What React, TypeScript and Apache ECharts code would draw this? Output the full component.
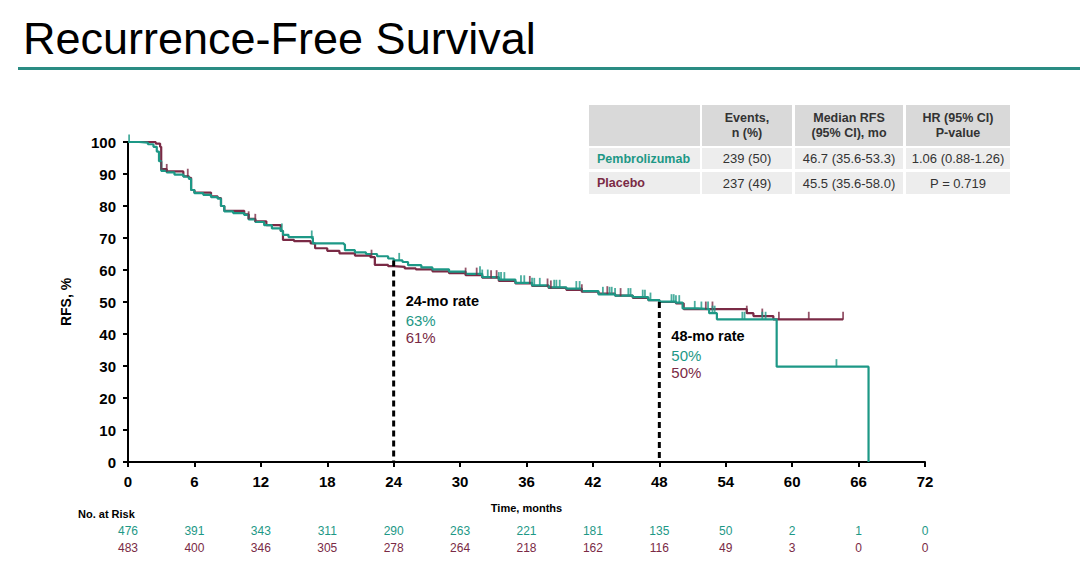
import React, { useEffect, useRef } from "react";
import * as echarts from "echarts";

const TEAL = "#1d9886";
const MAROON = "#7a2a45";

// Kaplan-Meier step points (time in months, RFS %)
const pembroTimes = [0, 1, 1.8, 2.3, 2.6, 2.8, 3.0, 3.5, 4.2, 5.0, 5.5, 5.7, 6.0, 6.8, 7.5, 8.1, 8.4, 8.7, 9.5, 10.5, 10.9, 11.5, 12.3, 13, 13.8, 14.0, 14.5, 16.6, 16.7, 19.5, 19.6, 20.5, 21.5, 22.5, 23.5, 24, 24.8, 25.3, 26.5, 27.5, 29, 30.5, 32, 33.5, 35, 36.5, 38, 39.6, 41, 42.5, 44, 45.6, 47, 48, 49.5, 50.1, 51.5, 52.5, 53.2, 58.6, 66.9];
const pembroSurv = [100, 99.8, 99.3, 98.5, 97, 94, 91, 90.5, 89.8, 89.2, 88.5, 85, 84, 83.5, 82.8, 82.3, 80, 78.3, 77.8, 77.2, 75.8, 75, 74, 73, 72.2, 71, 70.3, 70, 68.3, 68, 66.2, 65.5, 65, 64.3, 63.6, 63, 62.5, 61.5, 60.8, 60.2, 59.5, 58.8, 57.8, 57, 56, 55.2, 54.6, 54.2, 53.4, 52.4, 52, 51.5, 50.6, 50.1, 49.8, 48, 47.8, 46.5, 44.6, 29.8, 0];

const placeboTimes = [0, 2.5, 2.9, 3.0, 3.5, 5.0, 5.5, 5.7, 6, 7.5, 8.1, 8.4, 8.7, 10.5, 10.9, 11.5, 12.5, 13.8, 14.0, 15, 16.5, 16.9, 18, 19.1, 20.5, 21.9, 22.3, 23.5, 24, 25, 26, 27.5, 29, 30.5, 32, 33.5, 35, 36.5, 38, 39.6, 41, 42.5, 44, 45.6, 47, 48, 49.5, 50.2, 55.9, 56.5, 58.3, 64.6];
const placeboSurv = [100, 99.5, 98.5, 91.5, 90.8, 89.3, 88.8, 85, 84.2, 83, 82.5, 80, 78.5, 77.4, 76, 75.2, 74, 72.2, 69.4, 69, 68.3, 66.8, 66, 65.2, 64.5, 64, 61.6, 61.2, 61, 60.5, 60.2, 59.6, 59, 58.4, 57.6, 56.6, 55.8, 55, 54.4, 53.8, 53.2, 52.6, 52, 51.3, 50.6, 50, 49.6, 47.8, 46.5, 45.6, 44.6, 44.6];

// Censoring times
const pembroCensor = [0.1, 13.9, 16.6, 16.7, 24.5, 31.8, 32.0, 32.5, 33.5, 33.7, 34, 35.5, 35.8, 36.5, 36.7, 37.2, 38.5, 38.7, 39, 40.5, 40.8, 42.9, 43.5, 43.7, 44, 45.2, 45.4, 46.5, 46.7, 47.2, 49.1, 49.3, 49.5, 49.8, 51.2, 51.8, 52.4, 52.8, 53.0, 55.5, 55.7, 57.3, 57.6, 64.0];
const placeboCensor = [3.0, 3.5, 5.4, 10.9, 11.5, 22.0, 22.3, 30.5, 31.5, 32.8, 33.3, 36.3, 37.9, 38.2, 41.0, 43.3, 44.5, 52.2, 52.8, 55.9, 57.3, 58.8, 61.5, 64.6];

// Milestone rates
const milestoneTimes = [24, 48];
const milestonePembro = [63, 50];
const milestonePlacebo = [61, 50];

// Numbers at risk
const riskTimes = [0, 6, 12, 18, 24, 30, 36, 42, 48, 54, 60, 66, 72];
const pembroRisk = [476, 391, 343, 311, 290, 263, 221, 181, 135, 50, 2, 1, 0];
const placeboRisk = [483, 400, 346, 305, 278, 264, 218, 162, 116, 49, 3, 0, 0];

// Summary table
const tableHeaders = ["Events,\nn (%)", "Median RFS\n(95% CI), mo", "HR (95% CI)\nP-value"];
const tableRows = [
  { name: "Pembrolizumab", color: TEAL, cells: ["239 (50)", "46.7 (35.6-53.3)", "1.06 (0.88-1.26)"] },
  { name: "Placebo", color: MAROON, cells: ["237 (49)", "45.5 (35.6-58.0)", "P = 0.719"] },
];

const FONT = "'Liberation Sans', Arial, Helvetica, sans-serif";

function survAt(times: number[], surv: number[], t: number) {
  let s = surv[0];
  for (let i = 0; i < times.length; i++) if (times[i] <= t) s = surv[i];
  return s;
}

export default function App() {
  const ref = useRef<HTMLDivElement>(null);
  useEffect(() => {
    const chart = echarts.init(ref.current!, undefined, { renderer: "svg" });
    const riskAxis = (offset: number, vals: number[], color: string) => ({
      type: "value",
      min: 0,
      max: 72,
      interval: 6,
      position: "bottom",
      offset,
      axisLine: { show: false },
      axisTick: { show: false },
      splitLine: { show: false },
      axisLabel: {
        margin: 0,
        color,
        fontSize: 12,
        fontFamily: FONT,
        formatter: (v: number) => {
          const i = riskTimes.indexOf(v);
          return i >= 0 ? String(vals[i]) : "";
        },
      },
    });
    const censorSeries = (times: number[], surv: number[], cens: number[], color: string) => ({
      type: "scatter",
      symbol: "rect",
      symbolSize: [1.8, 8],
      symbolOffset: [0, -3.5],
      itemStyle: { color },
      z: 4,
      data: cens.map((t) => [t, survAt(times, surv, t)]),
    });
    chart.setOption({
      animation: false,
      backgroundColor: "#fff",
      title: {
        text: "Recurrence-Free Survival",
        left: 18,
        top: 11,
        textStyle: { fontFamily: FONT, fontSize: 45, fontWeight: "normal", color: "#000" },
      },
      grid: { left: 128, right: 155, top: 142, bottom: 112 },
      xAxis: [
        {
          type: "value",
          min: 0,
          max: 72,
          interval: 6,
          name: "Time, months",
          nameLocation: "middle",
          nameGap: 40,
          nameTextStyle: { fontFamily: FONT, fontWeight: "bold", fontSize: 11, color: "#000" },
          axisLine: { lineStyle: { color: "#000", width: 2 } },
          axisTick: { length: 5, lineStyle: { color: "#000", width: 2 } },
          splitLine: { show: false },
          axisLabel: { margin: 12, fontFamily: FONT, fontWeight: "bold", fontSize: 15, color: "#000" },
        },
        riskAxis(63, pembroRisk, TEAL),
        riskAxis(80, placeboRisk, MAROON),
      ],
      yAxis: {
        type: "value",
        min: 0,
        max: 100,
        interval: 10,
        name: "RFS, %",
        nameLocation: "middle",
        nameGap: 55,
        nameTextStyle: { fontFamily: FONT, fontWeight: "bold", fontSize: 14, color: "#000" },
        axisLine: { show: true, lineStyle: { color: "#000", width: 2 } },
        axisTick: { show: true, length: 5, lineStyle: { color: "#000", width: 2 } },
        splitLine: { show: false },
        axisLabel: { margin: 12, fontFamily: FONT, fontWeight: "bold", fontSize: 15, color: "#000" },
      },
      series: [
        {
          type: "line",
          step: "end",
          showSymbol: false,
          symbol: "none",
          lineStyle: { color: MAROON, width: 2.2 },
          z: 2,
          data: placeboTimes.map((t, i) => [t, placeboSurv[i]]),
        },
        {
          type: "line",
          step: "end",
          showSymbol: false,
          symbol: "none",
          lineStyle: { color: TEAL, width: 2.2 },
          z: 3,
          data: pembroTimes.map((t, i) => [t, pembroSurv[i]]),
        },
        censorSeries(placeboTimes, placeboSurv, placeboCensor, MAROON),
        censorSeries(pembroTimes, pembroSurv, pembroCensor, TEAL),
        ...milestoneTimes.map((t, i) => ({
          type: "line",
          symbol: "none",
          lineStyle: { color: "#000", width: 3, type: [6, 4] },
          z: 5,
          data: [
            [t, Math.max(milestonePembro[i], milestonePlacebo[i])],
            [t, 0],
          ],
        })),
      ],
    });

    const graphics: any[] = [
      { type: "rect", shape: { x: 18, y: 67, width: 1062, height: 3 }, style: { fill: "#2a8c83" } },
    ];
    // annotations placed via the chart's own coordinate conversion
    milestoneTimes.forEach((t, i) => {
      const [px, py] = chart.convertToPixel({ gridIndex: 0 }, [t, milestonePembro[i]]) as number[];
      const dy = i === 0 ? 41 : 34;
      const x = px + 12;
      graphics.push(
        { type: "text", x, y: py + dy, style: { text: `${t}-mo rate`, fill: "#000", font: `bold 14.5px ${FONT}`, verticalAlign: "middle" } },
        { type: "text", x, y: py + dy + 19, style: { text: `${milestonePembro[i]}%`, fill: TEAL, font: `15px ${FONT}`, verticalAlign: "middle" } },
        { type: "text", x, y: py + dy + 36, style: { text: `${milestonePlacebo[i]}%`, fill: MAROON, font: `15px ${FONT}`, verticalAlign: "middle" } }
      );
    });
    graphics.push({
      type: "text",
      x: 78,
      y: 514,
      style: { text: "No. at Risk", fill: "#000", font: `bold 11px ${FONT}`, verticalAlign: "middle" },
    });
    // table
    const colX = [589, 702, 795, 906];
    const colW = [111, 90, 108, 104];
    const rowY = [105, 148, 172];
    const rowH = [41, 21, 22];
    for (let r = 0; r < 3; r++) {
      for (let c = 0; c < 4; c++) {
        graphics.push({
          type: "rect",
          shape: { x: colX[c], y: rowY[r], width: colW[c], height: rowH[r] },
          style: { fill: r === 0 ? "#d9d9d9" : "#ededed" },
        });
      }
    }
    tableHeaders.forEach((h, c) => {
      graphics.push({
        type: "text",
        x: colX[c + 1] + colW[c + 1] / 2,
        y: rowY[0] + rowH[0] / 2,
        style: { text: h, fill: "#333", font: `bold 12.5px ${FONT}`, align: "center", verticalAlign: "middle", lineHeight: 15 },
      });
    });
    tableRows.forEach((row, r) => {
      const cy = rowY[r + 1] + rowH[r + 1] / 2;
      graphics.push({
        type: "text",
        x: colX[0] + 8,
        y: cy,
        style: { text: row.name, fill: row.color, font: `bold 12.5px ${FONT}`, verticalAlign: "middle" },
      });
      row.cells.forEach((cell, c) => {
        graphics.push({
          type: "text",
          x: colX[c + 1] + colW[c + 1] / 2,
          y: cy,
          style: { text: cell, fill: "#333", font: `13px ${FONT}`, align: "center", verticalAlign: "middle" },
        });
      });
    });
    chart.setOption({ graphic: graphics });
    return () => chart.dispose();
  }, []);
  return (
    <div
      ref={ref}
      style={{ position: "fixed", left: 0, top: 0, width: "1080px", height: "574px", background: "#fff" }}
    />
  );
}
